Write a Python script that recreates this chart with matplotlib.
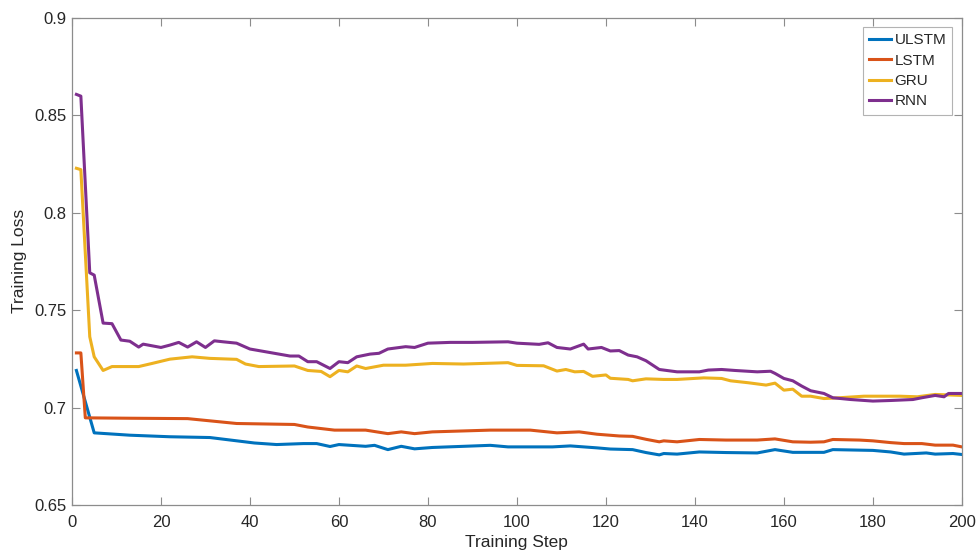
import numpy as np
import matplotlib
matplotlib.use('Agg')
import matplotlib.pyplot as plt

# steps / values, per series
ulstm_x = [1, 5, 13, 22, 31, 36, 41, 46, 52, 55, 58, 60, 66, 68, 71, 74, 77, 81, 94, 98, 108, 112, 118, 121, 126, 129, 132, 133, 136, 141, 147, 154, 158, 162, 169, 171, 180, 184, 187, 192, 194, 198, 200]
ulstm_y = [0.719, 0.687, 0.6858, 0.685, 0.6846, 0.6832, 0.6818, 0.681, 0.6815, 0.6815, 0.680, 0.681, 0.6801, 0.6806, 0.6784, 0.6801, 0.6788, 0.6795, 0.6806, 0.6798, 0.6798, 0.6803, 0.6793, 0.6787, 0.6784, 0.6769, 0.6757, 0.6764, 0.6761, 0.6772, 0.6769, 0.6767, 0.6784, 0.677, 0.677, 0.6784, 0.678, 0.6772, 0.6761, 0.6767, 0.6761, 0.6764, 0.6759]

lstm_x = [1, 2, 3, 13, 26, 37, 50, 53, 59, 66, 71, 74, 77, 81, 94, 103, 109, 114, 118, 123, 126, 129, 132, 133, 136, 141, 147, 154, 158, 162, 166, 169, 171, 177, 180, 184, 187, 191, 194, 198, 200]
lstm_y = [0.728, 0.728, 0.6947, 0.6945, 0.6943, 0.6918, 0.6913, 0.690, 0.6884, 0.6884, 0.6866, 0.6875, 0.6866, 0.6875, 0.6884, 0.6884, 0.687, 0.6875, 0.6863, 0.6854, 0.6852, 0.6837, 0.6824, 0.6829, 0.6824, 0.6836, 0.6833, 0.6833, 0.6839, 0.6824, 0.6822, 0.6824, 0.6836, 0.6833, 0.6829, 0.682, 0.6815, 0.6815, 0.6807, 0.6807, 0.6798]

gru_x = [1, 2, 4, 5, 7, 9, 15, 18, 22, 27, 31, 37, 39, 42, 50, 53, 56, 58, 60, 62, 64, 66, 70, 75, 81, 88, 98, 100, 106, 109, 111, 113, 115, 117, 120, 121, 125, 126, 129, 133, 136, 142, 146, 148, 152, 156, 158, 160, 162, 164, 166, 169, 171, 178, 186, 190, 194, 200]
gru_y = [0.8227, 0.822, 0.7363, 0.726, 0.719, 0.721, 0.721, 0.7226, 0.7248, 0.726, 0.7252, 0.7247, 0.7223, 0.721, 0.7213, 0.719, 0.7185, 0.7158, 0.719, 0.7183, 0.7213, 0.720, 0.7217, 0.7217, 0.7226, 0.7223, 0.723, 0.7216, 0.7214, 0.7187, 0.7195, 0.7183, 0.7185, 0.716, 0.7167, 0.715, 0.7144, 0.7137, 0.7147, 0.7144, 0.7144, 0.7152, 0.7149, 0.7137, 0.7127, 0.7115, 0.7125, 0.7089, 0.7094, 0.7058, 0.7058, 0.7046, 0.7048, 0.7058, 0.7058, 0.7055, 0.7067, 0.7062]

rnn_x = [1, 2, 4, 5, 7, 9, 11, 13, 15, 16, 20, 22, 24, 26, 28, 30, 32, 34, 37, 40, 45, 49, 51, 53, 55, 58, 60, 62, 64, 67, 69, 71, 75, 77, 80, 85, 90, 98, 100, 105, 107, 109, 112, 115, 116, 119, 121, 123, 125, 127, 129, 132, 136, 141, 143, 146, 149, 154, 157, 158, 160, 162, 164, 166, 169, 171, 175, 180, 184, 189, 191, 194, 196, 197, 200]
rnn_y = [0.8606, 0.8597, 0.7691, 0.7679, 0.7433, 0.743, 0.7346, 0.734, 0.731, 0.7325, 0.7308, 0.732, 0.7334, 0.731, 0.7337, 0.7308, 0.7342, 0.7337, 0.733, 0.730, 0.728, 0.7264, 0.7264, 0.7235, 0.7235, 0.720, 0.7235, 0.723, 0.726, 0.7274, 0.7278, 0.730, 0.7312, 0.7308, 0.733, 0.7334, 0.7334, 0.7337, 0.733, 0.7324, 0.7332, 0.7308, 0.730, 0.7325, 0.730, 0.7308, 0.729, 0.7292, 0.7269, 0.726, 0.724, 0.7195, 0.7183, 0.7183, 0.7192, 0.7195, 0.719, 0.7183, 0.7186, 0.7175, 0.7149, 0.7137, 0.711, 0.7086, 0.7072, 0.705, 0.7041, 0.7033, 0.7036, 0.7041, 0.705, 0.7062, 0.7055, 0.7072, 0.7072]

xticks = [0, 20, 40, 60, 80, 100, 120, 140, 160, 180, 200]
yticks = [0.65, 0.7, 0.75, 0.8, 0.85, 0.9]
ytick_labels = ['0.65', '0.7', '0.75', '0.8', '0.85', '0.9']

plt.rcParams['font.family'] = ['Liberation Sans', 'DejaVu Sans']
txt = '#262626'
ax_col = '#8c8c8c'

fig = plt.figure(figsize=(9.79, 5.58), dpi=100)
ax = fig.add_axes([0.0735, 0.095, 0.909, 0.8735])

ax.plot(ulstm_x, ulstm_y, color='#0072BD', lw=2.2, label='ULSTM')
ax.plot(lstm_x, lstm_y, color='#D95319', lw=2.2, label='LSTM')
ax.plot(gru_x, gru_y, color='#EDB120', lw=2.2, label='GRU')
ax.plot(rnn_x, rnn_y, color='#7E2F8E', lw=2.2, label='RNN')

ax.set_xlim(0, 200)
ax.set_ylim(0.65, 0.9)
ax.set_xticks(xticks)
ax.set_yticks(yticks)
ax.set_yticklabels(ytick_labels)
ax.tick_params(which='both', direction='in', top=True, right=True, length=6,
               width=0.8, color=ax_col, labelsize=12, labelcolor=txt)
ax.tick_params(axis='x', pad=7)
ax.tick_params(axis='y', pad=4)
for s in ax.spines.values():
    s.set_color(ax_col)
    s.set_linewidth(0.9)

ax.set_xlabel('Training Step', fontsize=12.5, color=txt, labelpad=4)
ax.set_ylabel('Training Loss', fontsize=12.5, color=txt, labelpad=5)

leg = ax.legend(loc='upper right', fontsize=11, frameon=True, fancybox=False,
                handlelength=1.45, handletextpad=0.2, borderpad=0.4,
                labelspacing=0.42, borderaxespad=0.62)
leg.get_frame().set_edgecolor('#a0a0a0')
leg.get_frame().set_linewidth(0.8)
for t in leg.get_texts():
    t.set_color(txt)

fig.savefig('out.png', dpi=100)
